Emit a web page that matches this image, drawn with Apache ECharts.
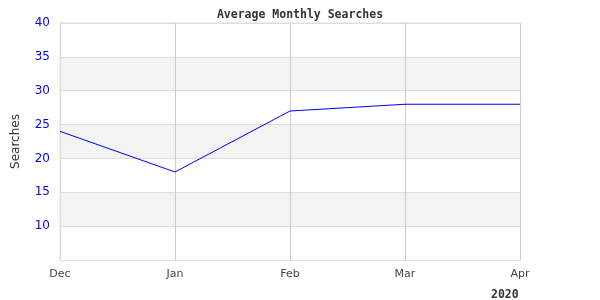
<!DOCTYPE html>
<html>
<head>
<meta charset="utf-8">
<script src="https://cdn.jsdelivr.net/npm/echarts@6/dist/echarts.min.js"></script>
<style>html,body{margin:0;padding:0;background:#fff}#c{width:600px;height:300px}</style>
</head>
<body>
<div id="c"></div>
<script>
const categories = ['Dec', 'Jan', 'Feb', 'Mar', 'Apr'];
const searches = [24, 18, 27, 28, 28];
const yearLabel = '2020';

const chart = echarts.init(document.getElementById('c'), null, {renderer: 'canvas'});
chart.setOption({
  animation: false,
  backgroundColor: '#fff',
  title: {
    text: 'Average Monthly Searches',
    left: 'center', top: 4,
    textStyle: {fontFamily: 'DejaVu Sans Mono', fontWeight: 'bold', fontSize: 11.5, color: '#333'}
  },
  grid: {left: 60, right: 80, top: 23, bottom: 40, show: true, borderColor: '#ddd', borderWidth: 1,
    backgroundColor: 'transparent', outerBoundsMode: 'none', containLabel: false},
  xAxis: {
    type: 'category', data: categories, boundaryGap: false,
    axisLine: {show: true, lineStyle: {color: '#ddd'}},
    axisTick: {show: false},
    axisLabel: {color: '#444', fontFamily: 'DejaVu Sans', fontSize: 11, margin: 9},
    splitLine: {show: true, lineStyle: {color: '#ccc', width: 1}}
  },
  yAxis: {
    type: 'value', min: 5, max: 40, interval: 5,
    name: 'Searches', nameLocation: 'middle', nameGap: 38,
    nameTextStyle: {fontFamily: 'DejaVu Sans', fontSize: 12, color: '#333'},
    axisLine: {show: true, lineStyle: {color: '#ddd'}},
    axisTick: {show: false},
    axisLabel: {color: '#0000ff', fontFamily: 'DejaVu Sans', fontSize: 12, margin: 10,
      formatter: v => v === 5 ? '' : String(v)},
    splitLine: {show: true, lineStyle: {color: '#ddd', width: 1}},
    splitArea: {show: true, areaStyle: {color: ['#ffffff', '#f3f3f3']}}
  },
  graphic: [{
    type: 'text', left: 491, top: 289,
    style: {text: yearLabel, font: 'bold 11.5px "DejaVu Sans Mono"', fill: '#333'}
  }],
  series: [{
    type: 'line', data: searches, symbol: 'none',
    lineStyle: {color: '#0000ff', width: 1}
  }]
});
</script>
</body>
</html>
